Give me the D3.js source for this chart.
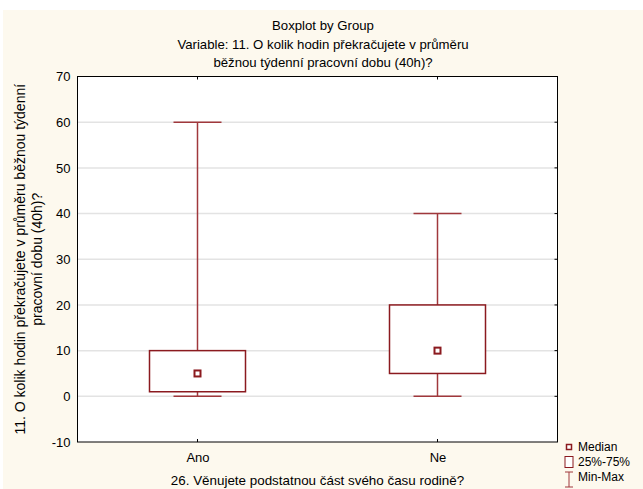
<!DOCTYPE html>
<html>
<head>
<meta charset="utf-8">
<script src="https://cdn.jsdelivr.net/npm/d3@7"></script>
<style>
  html, body { margin: 0; padding: 0; background: #ffffff; }
  text { font-family: "Liberation Sans", Arial, sans-serif; fill: #000; }
</style>
</head>
<body>
<svg id="chart" width="643" height="489"></svg>
<script>
// Data
const groups = ["Ano", "Ne"];
const mins = [0, 0];
const q1s = [1, 5];
const medians = [5, 10];
const q3s = [10, 20];
const maxs = [60, 40];
const yTicks = [-10, 0, 10, 20, 30, 40, 50, 60, 70];
const gridVals = [0, 10, 20, 30, 40, 50, 60];

const titleLines = ["Boxplot by Group",
    "Variable: 11. O kolik hodin překračujete v průměru",
    "běžnou týdenní pracovní dobu (40h)?"];
const yTitleLines = ["11. O kolik hodin překračujete v průměru běžnou týdenní",
    "pracovní dobu (40h)?"];
const xTitle = "26. Věnujete podstatnou část svého času rodině?";
const legendItems = ["Median", "25%-75%", "Min-Max"];

const boxColor = "#8b1a1f";
const whiskColor = "#a0383c";

const svg = d3.select("#chart");

// Cream background, thin white strip on top and left
svg.append("rect")
    .attr("x", 3).attr("y", 10)
    .attr("width", 640).attr("height", 479)
    .attr("fill", "#fdf9ee");

// Plot area
const plot = { left: 77.5, right: 557.5, top: 76.5, bottom: 442 };

const x = d3.scalePoint()
    .domain(groups)
    .range([plot.left, plot.right])
    .padding(0.5);

const y = d3.scaleLinear()
    .domain([-10, 70])
    .range([plot.bottom, plot.top]);

const boxW = (plot.right - plot.left) * 0.2;
const capW = boxW / 2;

svg.append("rect")
    .attr("x", plot.left).attr("y", plot.top)
    .attr("width", plot.right - plot.left)
    .attr("height", plot.bottom - plot.top)
    .attr("fill", "#ffffff");

// Gridlines
svg.append("g").selectAll("line")
    .data(gridVals)
    .enter()
    .append("line")
    .attr("x1", plot.left).attr("x2", plot.right)
    .attr("y1", d => y(d)).attr("y2", d => y(d))
    .attr("stroke", "#e3e3e3")
    .attr("stroke-width", 1.5);

// Boxes
const data = groups.map((g, i) => ({
    g: g, min: mins[i], q1: q1s[i], med: medians[i], q3: q3s[i], max: maxs[i]
}));

const boxGroup = svg.append("g");
data.forEach(d => {
    const cx = x(d.g);
    // upper whisker
    boxGroup.append("line")
        .attr("x1", cx).attr("x2", cx)
        .attr("y1", y(d.q3)).attr("y2", y(d.max))
        .attr("stroke", whiskColor).attr("stroke-width", 1.5);
    // lower whisker
    boxGroup.append("line")
        .attr("x1", cx).attr("x2", cx)
        .attr("y1", y(d.q1)).attr("y2", y(d.min))
        .attr("stroke", whiskColor).attr("stroke-width", 1.5);
    // caps
    [d.min, d.max].forEach(v => {
        boxGroup.append("line")
            .attr("x1", cx - capW / 2).attr("x2", cx + capW / 2)
            .attr("y1", y(v)).attr("y2", y(v))
            .attr("stroke", whiskColor).attr("stroke-width", 1.5);
    });
    // box
    boxGroup.append("rect")
        .attr("x", cx - boxW / 2)
        .attr("y", y(d.q3))
        .attr("width", boxW)
        .attr("height", y(d.q1) - y(d.q3))
        .attr("fill", "#ffffff")
        .attr("stroke", boxColor)
        .attr("stroke-width", 1.5);
    // median marker
    boxGroup.append("rect")
        .attr("x", cx - 3).attr("y", y(d.med) - 3)
        .attr("width", 6).attr("height", 6)
        .attr("fill", "#ffffff")
        .attr("stroke", boxColor)
        .attr("stroke-width", 2);
});

// Frame
svg.append("rect")
    .attr("x", plot.left).attr("y", plot.top)
    .attr("width", plot.right - plot.left)
    .attr("height", plot.bottom - plot.top)
    .attr("fill", "none")
    .attr("stroke", "#000")
    .attr("stroke-width", 1);

// Y axis labels + small inner ticks on the right
const yAxis = svg.append("g")
    .attr("transform", `translate(${plot.left},0)`)
    .call(d3.axisLeft(y).tickValues(yTicks).tickSize(0).tickPadding(7)
        .tickFormat(d => String(d)));
yAxis.select(".domain").remove();
yAxis.selectAll("text")
    .attr("font-size", "13px")
    .attr("font-family", "Liberation Sans, Arial, sans-serif");

svg.append("g").selectAll("line")
    .data(gridVals)
    .enter()
    .append("line")
    .attr("x1", plot.right - 3).attr("x2", plot.right)
    .attr("y1", d => y(d)).attr("y2", d => y(d))
    .attr("stroke", "#000");

// X axis labels + inner ticks top and bottom
const xAxis = svg.append("g")
    .attr("transform", `translate(0,${plot.bottom})`)
    .call(d3.axisBottom(x).tickSize(0).tickPadding(11));
xAxis.select(".domain").remove();
xAxis.selectAll("text")
    .attr("font-size", "13px")
    .attr("font-family", "Liberation Sans, Arial, sans-serif");

svg.append("g").selectAll("line")
    .data(groups)
    .enter()
    .append("line")
    .attr("x1", d => x(d)).attr("x2", d => x(d))
    .attr("y1", plot.bottom - 3).attr("y2", plot.bottom)
    .attr("stroke", "#000");
svg.append("g").selectAll("line")
    .data(groups)
    .enter()
    .append("line")
    .attr("x1", d => x(d)).attr("x2", d => x(d))
    .attr("y1", plot.top).attr("y2", plot.top + 3)
    .attr("stroke", "#000");

// Titles
svg.append("g").selectAll("text")
    .data(titleLines)
    .enter()
    .append("text")
    .attr("x", 323)
    .attr("y", (d, i) => 30 + i * 18.5)
    .attr("text-anchor", "middle")
    .attr("font-size", "13.2px")
    .text(d => d);

svg.append("text")
    .attr("x", (plot.left + plot.right) / 2)
    .attr("y", 485)
    .attr("text-anchor", "middle")
    .attr("font-size", "13.4px")
    .text(xTitle);

svg.append("g")
    .attr("transform", `translate(0,${(plot.top + plot.bottom) / 2}) rotate(-90)`)
    .selectAll("text")
    .data(yTitleLines)
    .enter()
    .append("text")
    .attr("x", 0)
    .attr("y", (d, i) => 24.5 + i * 17)
    .attr("text-anchor", "middle")
    .attr("font-size", "14px")
    .text(d => d);

// Legend
const lg = svg.append("g").attr("transform", "translate(569,0)");
lg.append("rect")
    .attr("x", -2.5).attr("y", 444.5)
    .attr("width", 5).attr("height", 5)
    .attr("fill", "#fff").attr("stroke", boxColor).attr("stroke-width", 1.5);
lg.append("rect")
    .attr("x", -4).attr("y", 456.5)
    .attr("width", 8).attr("height", 11)
    .attr("fill", "#fff").attr("stroke", boxColor).attr("stroke-width", 1);
lg.append("line")
    .attr("x1", 0).attr("x2", 0).attr("y1", 472).attr("y2", 487)
    .attr("stroke", whiskColor).attr("stroke-width", 1);
[472, 487].forEach(v => {
    lg.append("line")
        .attr("x1", -4).attr("x2", 4).attr("y1", v).attr("y2", v)
        .attr("stroke", whiskColor).attr("stroke-width", 1);
});
lg.selectAll("text.leg")
    .data(legendItems)
    .enter()
    .append("text")
    .attr("class", "leg")
    .attr("x", 9)
    .attr("y", (d, i) => 451 + i * 15)
    .attr("font-size", "12px")
    .text(d => d);
</script>
</body>
</html>
